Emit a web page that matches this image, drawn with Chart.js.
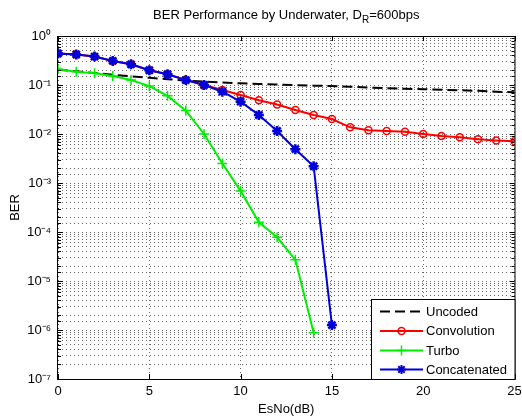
<!DOCTYPE html>
<html lang="en">
<head>
<meta charset="UTF-8"/>
<title>BER Performance by Underwater</title>
<script src="https://cdn.jsdelivr.net/npm/chart.js"></script>
<style>
  html, body { margin: 0; padding: 0; background: #fff; }
  #wrap { width: 522px; height: 417px; position: relative; }
</style>
<script>
// EsNo (dB) values
const esNo = [0,1,2,3,4,5,6,7,8,9,10,11,12,13,14,15,16,17,18,19,20,21,22,23,24,25];

// BER
const uncoded = [0.205,0.19,0.176,0.162,0.150,0.140,0.131,0.123,0.117,0.112,0.108,0.105,0.102,0.099,0.097,0.095,0.092,0.089,0.086,0.084,0.082,0.080,0.078,0.076,0.073,0.071];
const convolution = [0.44,0.42,0.38,0.31,0.265,0.20,0.166,0.127,0.10,0.079,0.0625,0.049,0.040,0.031,0.0244,0.0202,0.0137,0.0119,0.0115,0.0111,0.0100,0.0091,0.0086,0.0078,0.0074,0.0071];
const turbo = [0.21,0.187,0.173,0.153,0.126,0.095,0.060,0.030,0.010,0.0025,6.9e-4,1.58e-4,7.8e-5,2.7e-5,8.8e-7];
const concatenated = [0.44,0.42,0.38,0.31,0.264,0.20,0.166,0.126,0.10,0.073,0.0457,0.0244,0.0115,0.0049,0.0022,1.26e-6];

const seriesNames = ["Uncoded", "Convolution", "Turbo", "Concatenated"];
const xTicks = [0, 5, 10, 15, 20, 25];

const FONT = "'Liberation Sans', Arial, sans-serif";
const SUP = {"0":"\u2070","1":"\u00b9","2":"\u00b2","3":"\u00b3","4":"\u2074","5":"\u2075","6":"\u2076","7":"\u2077","8":"\u2078","9":"\u2079","-":"\u207b"};

function pts(ys) {
    return ys.map((y, i) => ({ x: esNo[i], y: y }));
}

function isDecade(v) {
    const e = Math.log10(v);
    return Math.abs(e - Math.round(e)) < 1e-6;
}

function drawMarker(ctx, style, x, y, color) {
    ctx.save();
    ctx.strokeStyle = color;
    ctx.fillStyle = color;
    ctx.setLineDash([]);
    if (style === "circle") {
        ctx.lineWidth = 1.5;
        ctx.beginPath();
        ctx.arc(x, y, 3.5, 0, Math.PI * 2);
        ctx.stroke();
    } else if (style === "cross") {
        ctx.lineWidth = 1.5;
        ctx.beginPath();
        ctx.moveTo(x - 5, y); ctx.lineTo(x + 5, y);
        ctx.moveTo(x, y - 5); ctx.lineTo(x, y + 5);
        ctx.stroke();
    } else if (style === "star") {
        ctx.lineWidth = 2;
        ctx.beginPath();
        for (let k = 0; k < 4; k++) {
            const a = k * Math.PI / 4;
            ctx.moveTo(x - 4.5 * Math.cos(a), y - 4.5 * Math.sin(a));
            ctx.lineTo(x + 4.5 * Math.cos(a), y + 4.5 * Math.sin(a));
        }
        ctx.stroke();
    }
    ctx.restore();
}

// frame, inward ticks, title with subscript, legend box
const matlabLook = {
    id: "matlabLook",
    afterDraw(chart) {
        const ctx = chart.ctx;
        const a = chart.chartArea;
        const xs = chart.scales.x, ys = chart.scales.y;
        ctx.save();
        ctx.strokeStyle = "#000";
        ctx.lineWidth = 1;
        ctx.setLineDash([]);

        // tick marks pointing inward
        ctx.beginPath();
        ys.ticks.forEach(t => {
            const y = Math.round(ys.getPixelForValue(t.value)) + 0.5;
            const len = isDecade(t.value) ? 5 : 3;
            ctx.moveTo(a.left, y); ctx.lineTo(a.left + len, y);
            ctx.moveTo(a.right, y); ctx.lineTo(a.right - len, y);
        });
        xTicks.forEach(v => {
            const x = Math.round(xs.getPixelForValue(v)) + 0.5;
            ctx.moveTo(x, a.bottom); ctx.lineTo(x, a.bottom - 5);
            ctx.moveTo(x, a.top); ctx.lineTo(x, a.top + 5);
        });
        ctx.stroke();

        // axes box
        ctx.strokeRect(a.left - 0.5, a.top + 0.5, a.right - a.left + 1, a.bottom - a.top);

        // title
        ctx.fillStyle = "#000";
        ctx.textBaseline = "alphabetic";
        const p1 = "BER Performance by Underwater, D", p2 = "R", p3 = "=600bps";
        ctx.font = "13px " + FONT;
        const w1 = ctx.measureText(p1).width, w3 = ctx.measureText(p3).width;
        ctx.font = "10px " + FONT;
        const w2 = ctx.measureText(p2).width;
        let tx = (a.left + a.right) / 2 - (w1 + w2 + w3) / 2;
        const ty = 19;
        ctx.textAlign = "left";
        ctx.font = "13px " + FONT;
        ctx.fillText(p1, tx, ty);
        ctx.font = "10px " + FONT;
        ctx.fillText(p2, tx + w1, ty + 4);
        ctx.font = "13px " + FONT;
        ctx.fillText(p3, tx + w1 + w2, ty);

        // legend
        const lx = 371.5, ly = 299.5, lw = a.right - 371, lh = a.bottom - 299;
        ctx.fillStyle = "#fff";
        ctx.fillRect(lx, ly, lw, lh);
        ctx.strokeStyle = "#000";
        ctx.strokeRect(lx, ly, lw, lh);
        const rows = [311.5, 331, 350.5, 369.5];
        chart.data.datasets.forEach((ds, i) => {
            const y = rows[i];
            ctx.save();
            ctx.strokeStyle = ds.borderColor;
            ctx.lineWidth = ds.borderWidth;
            ctx.setLineDash(ds.borderDash || []);
            ctx.beginPath();
            ctx.moveTo(380, y); ctx.lineTo(423, y);
            ctx.stroke();
            ctx.restore();
            if (ds.pointRadius > 0) drawMarker(ctx, ds.pointStyle, 401.5, y, ds.borderColor);
            ctx.fillStyle = "#000";
            ctx.font = "13px " + FONT;
            ctx.textBaseline = "middle";
            ctx.fillText(seriesNames[i], 426, y + 0.5);
        });
        ctx.restore();
    }
};

window.addEventListener("load", function() {
    const ctx = document.getElementById("berChart").getContext("2d");
    new Chart(ctx, {
        type: "line",
        data: {
            datasets: [
                { label: seriesNames[0], data: pts(uncoded), borderColor: "#000000", borderWidth: 2,
                  borderDash: [10, 5], pointRadius: 0, order: 4 },
                { label: seriesNames[1], data: pts(convolution), borderColor: "#ff0000", borderWidth: 2,
                  pointStyle: "circle", pointRadius: 3.5, pointBorderWidth: 1.5,
                  pointBackgroundColor: "rgba(0,0,0,0)", order: 3 },
                { label: seriesNames[2], data: pts(turbo), borderColor: "#00ee00", borderWidth: 2,
                  pointStyle: "cross", pointRadius: 5, pointBorderWidth: 1.5, order: 2 },
                { label: seriesNames[3], data: pts(concatenated), borderColor: "#0000d8", borderWidth: 2,
                  pointStyle: "star", pointRadius: 5, pointBorderWidth: 2.5, order: 1 }
            ]
        },
        options: {
            responsive: false,
            animation: false,
            layout: { padding: { left: 0, right: 6, top: 36, bottom: 0 } },
            plugins: { legend: { display: false }, tooltip: { enabled: false }, title: { display: false } },
            elements: { line: { tension: 0, fill: false } },
            scales: {
                x: {
                    type: "linear", min: 0, max: 25,
                    afterBuildTicks: s => { s.ticks = xTicks.map(v => ({ value: v })); },
                    ticks: { color: "#000", font: { family: FONT, size: 13 }, padding: 5, maxRotation: 0 },
                    grid: { color: "rgba(0,0,0,0.6)", lineWidth: 1, drawTicks: false },
                    border: { display: false, dash: [1, 3] },
                    title: { display: true, text: "EsNo(dB)", color: "#000", font: { family: FONT, size: 13 }, padding: 0 },
                    afterFit: s => { s.height = 38; s.paddingLeft = 0; s.paddingRight = 0; }
                },
                y: {
                    type: "logarithmic", min: 1e-7, max: 1,
                    ticks: {
                        autoSkip: false, color: "#000", font: { family: FONT, size: 13 }, padding: 7,
                        callback: v => {
                            if (!isDecade(v)) return "";
                            const e = String(Math.round(Math.log10(v)));
                            return "10" + e.split("").map(c => SUP[c]).join("");
                        }
                    },
                    grid: { color: "rgba(0,0,0,0.6)", lineWidth: 1, drawTicks: false },
                    border: { display: false, dash: [1, 3] },
                    title: { display: true, text: "BER", color: "#000", font: { family: FONT, size: 13 }, padding: { top: 8, bottom: 0 } },
                    afterFit: s => { s.width = 58; s.paddingTop = 0; s.paddingBottom = 0; }
                }
            }
        },
        plugins: [matlabLook]
    });
}, false);
</script>
</head>
<body>
<div id="wrap"><canvas id="berChart" width="522" height="417"></canvas></div>
</body>
</html>
